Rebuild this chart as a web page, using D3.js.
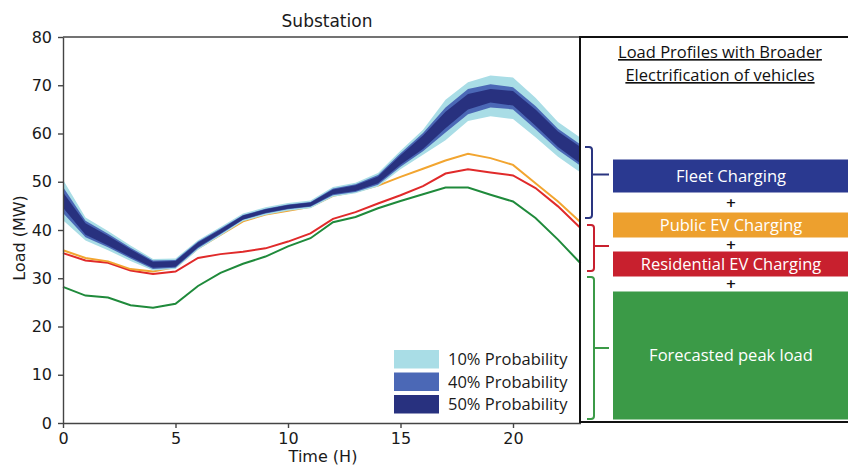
<!DOCTYPE html>
<html>
<head>
<meta charset="utf-8">
<script src="https://cdn.jsdelivr.net/npm/d3@7"></script>
<style>
  body { margin: 0; background: #fff; }
  svg { display: block; }
  .axis text { font-family: "DejaVu Sans", sans-serif; font-size: 16px; fill: #1a1a1a; }
  .axis path, .axis line { stroke: #444; stroke-width: 1.4px; }
</style>
</head>
<body>
<div id="chart"></div>
<script>
// hour of day
const hours = d3.range(0, 24);

// load profiles (MW)
const peakLoad = [28.2, 26.4, 26.0, 24.4, 23.9, 24.7, 28.4, 31.1, 33.0, 34.5, 36.6, 38.3, 41.6, 42.7, 44.5, 46.0, 47.4, 48.8, 48.8, 47.3, 45.9, 42.5, 38.0, 33.1];
const residentialEV = [35.2, 33.7, 33.2, 31.6, 30.9, 31.4, 34.2, 35.0, 35.5, 36.2, 37.6, 39.3, 42.3, 43.7, 45.5, 47.2, 49.1, 51.7, 52.6, 51.9, 51.3, 48.7, 44.9, 40.4];
const publicEV = [35.8, 34.2, 33.5, 31.9, 31.4, 32.3, 36.2, 39.0, 41.8, 43.2, 44.0, 44.8, 47.1, 48.0, 49.2, 51.0, 52.7, 54.4, 55.8, 54.9, 53.5, 49.7, 45.9, 41.6];
const fleetMid = [46.2, 40.2, 37.8, 35.2, 32.8, 33.0, 36.9, 39.7, 42.6, 43.9, 44.8, 45.3, 47.9, 48.7, 50.4, 54.5, 58.2, 62.8, 66.6, 67.8, 67.3, 63.3, 58.8, 55.5];

// half widths of the fleet charging bands
const spread10 = [4.2, 2.4, 2.0, 1.6, 1.2, 1.1, 1.0, 0.9, 0.8, 0.8, 0.8, 0.8, 1.0, 1.1, 1.4, 1.9, 2.6, 4.2, 4.0, 4.2, 4.3, 4.1, 3.6, 3.6];
const spread40 = [2.7, 1.7, 1.4, 1.1, 0.9, 0.8, 0.7, 0.6, 0.5, 0.5, 0.5, 0.5, 0.7, 0.8, 1.0, 1.4, 1.9, 2.6, 2.6, 2.4, 2.3, 2.4, 2.2, 2.2];
const spread50 = [1.6, 1.2, 1.0, 0.8, 0.6, 0.6, 0.5, 0.4, 0.4, 0.4, 0.4, 0.4, 0.5, 0.6, 0.7, 1.0, 1.4, 1.7, 1.6, 1.4, 1.5, 1.7, 1.6, 1.7];

const xTicks = [0, 5, 10, 15, 20];
const yTicks = [0, 10, 20, 30, 40, 50, 60, 70, 80];

const bandLabels = ['10% Probability', '40% Probability', '50% Probability'];
const stackLabels = ['Fleet Charging', 'Public EV Charging', 'Residential EV Charging', 'Forecasted peak load'];

const COLORS = {
  band10: '#a9dde6', band40: '#4b68b6', band50: '#28317f',
  publicEV: '#f2a530', residential: '#e02a2a', peak: '#1f8a3b'
};

const W = 848, H = 466;
const PLOT = { LEFT: 63, RIGHT: 580.5, TOP: 37, BOTTOM: 423 };

const svg = d3.select('#chart')
  .append('svg')
  .attr('width', W)
  .attr('height', H);

//scales
const x = d3.scaleLinear().domain([0, 23]).range([PLOT.LEFT, PLOT.RIGHT]);
const y = d3.scaleLinear().domain([0, 80]).range([PLOT.BOTTOM, PLOT.TOP]);

// bands
const bands = [
  { key: 'band10', s: spread10 },
  { key: 'band40', s: spread40 },
  { key: 'band50', s: spread50 }
];

const line = d3.line().x(d => x(d[0])).y(d => y(d[1]));

// demand lines (drawn under the fleet bands)
const series = [
  { key: 'peak', v: peakLoad },
  { key: 'residential', v: residentialEV },
  { key: 'publicEV', v: publicEV }
];
svg.append('g').selectAll('path')
  .data(series)
  .join('path')
  .attr('d', d => line(hours.map(h => [h, d.v[h]])))
  .attr('fill', 'none')
  .attr('stroke', d => COLORS[d.key])
  .attr('stroke-width', 2);

const area = d3.area()
  .x(d => x(d.h))
  .y0(d => y(d.lo))
  .y1(d => y(d.hi));

svg.append('g').selectAll('path')
  .data(bands)
  .join('path')
  .attr('d', b => area(hours.map(h => ({ h, lo: fleetMid[h] - b.s[h], hi: fleetMid[h] + b.s[h] }))))
  .attr('fill', b => COLORS[b.key]);

// axes
svg.append('g')
  .attr('class', 'axis')
  .attr('transform', `translate(0, ${PLOT.BOTTOM})`)
  .call(d3.axisBottom(x).tickValues(xTicks).tickSize(5).tickPadding(5).tickSizeOuter(0));

svg.append('g')
  .attr('class', 'axis')
  .attr('transform', `translate(${PLOT.LEFT}, 0)`)
  .call(d3.axisLeft(y).tickValues(yTicks).tickSize(5).tickPadding(6).tickSizeOuter(0));

// top frame line
svg.append('line')
  .attr('x1', PLOT.LEFT).attr('x2', PLOT.RIGHT)
  .attr('y1', PLOT.TOP).attr('y2', PLOT.TOP)
  .attr('stroke', '#444').attr('stroke-width', 1.4);

svg.append('text')
  .attr('x', 327).attr('y', 27)
  .attr('text-anchor', 'middle')
  .attr('font-family', 'DejaVu Sans, sans-serif')
  .attr('font-size', 17)
  .attr('fill', '#1a1a1a')
  .text('Substation');

svg.append('text')
  .attr('x', 323).attr('y', 462)
  .attr('text-anchor', 'middle')
  .attr('font-family', 'DejaVu Sans, sans-serif')
  .attr('font-size', 16)
  .attr('fill', '#1a1a1a')
  .text('Time (H)');

svg.append('text')
  .attr('transform', 'translate(25, 238) rotate(-90)')
  .attr('text-anchor', 'middle')
  .attr('font-family', 'DejaVu Sans, sans-serif')
  .attr('font-size', 16)
  .attr('fill', '#1a1a1a')
  .text('Load (MW)');

// legend
const legend = svg.append('g').attr('transform', 'translate(394, 350)');
legend.selectAll('rect')
  .data(bands)
  .join('rect')
  .attr('x', 0)
  .attr('y', (d, i) => i * 22.5)
  .attr('width', 45)
  .attr('height', 18.5)
  .attr('fill', d => COLORS[d.key]);
legend.selectAll('text')
  .data(bandLabels)
  .join('text')
  .attr('x', 54)
  .attr('y', (d, i) => i * 22.5 + 15)
  .attr('font-family', 'Open Sans, sans-serif')
  .attr('font-size', 16.5)
  .attr('fill', '#1a1a1a')
  .text(d => d);

// right panel
const panel = svg.append('g');
panel.append('rect')
  .attr('x', 580).attr('y', 37)
  .attr('width', 300).attr('height', 385)
  .attr('fill', 'none')
  .attr('stroke', '#111')
  .attr('stroke-width', 2);

const title = ['Load Profiles with Broader', 'Electrification of vehicles'];
panel.selectAll('text.ttl')
  .data(title)
  .join('text')
  .attr('class', 'ttl')
  .attr('x', 720)
  .attr('y', (d, i) => 58 + i * 23)
  .attr('text-anchor', 'middle')
  .attr('font-family', 'Open Sans, sans-serif')
  .attr('font-size', 16.5)
  .attr('text-decoration', 'underline')
  .attr('fill', '#111')
  .text(d => d);

const boxes = [
  { label: stackLabels[0], y0: 159.5, y1: 192.5, fill: '#2a3990' },
  { label: stackLabels[1], y0: 212.5, y1: 237.5, fill: '#eda02e' },
  { label: stackLabels[2], y0: 251.5, y1: 276.5, fill: '#c8202e' },
  { label: stackLabels[3], y0: 291.5, y1: 419.5, fill: '#3b9a47' }
];
panel.selectAll('rect.box')
  .data(boxes)
  .join('rect')
  .attr('class', 'box')
  .attr('x', 613).attr('y', d => d.y0)
  .attr('width', 240).attr('height', d => d.y1 - d.y0)
  .attr('fill', d => d.fill);
panel.selectAll('text.box')
  .data(boxes)
  .join('text')
  .attr('class', 'box')
  .attr('x', 731)
  .attr('y', d => (d.y0 + d.y1) / 2)
  .attr('dy', '0.35em')
  .attr('text-anchor', 'middle')
  .attr('font-family', 'Open Sans, sans-serif')
  .attr('font-size', 16.5)
  .attr('fill', '#fff')
  .text(d => d.label);

// plus signs sit in the gaps between the boxes
panel.selectAll('text.plus')
  .data(boxes.slice(1))
  .join('text')
  .attr('class', 'plus')
  .attr('x', 731)
  .attr('y', (d, i) => (boxes[i].y1 + d.y0) / 2)
  .attr('dy', '0.33em')
  .attr('text-anchor', 'middle')
  .attr('font-family', 'DejaVu Sans, sans-serif')
  .attr('font-size', 13)
  .attr('font-weight', 'bold')
  .attr('fill', '#111')
  .text('+');

// curly brackets
const brackets = [
  { top: 147, bot: 218, mid: 174.5, xv: 592, color: '#2a3580' },
  { top: 225, bot: 271, mid: 246, xv: 594, color: '#c8202e' },
  { top: 277, bot: 419, mid: 348, xv: 594, color: '#3b9a47' }
];
panel.selectAll('path.br')
  .data(brackets)
  .join('path')
  .attr('class', 'br')
  .attr('d', b => {
    const xl = b.xv - 7, r = 3;
    return `M${xl},${b.top} L${b.xv - r},${b.top} Q${b.xv},${b.top} ${b.xv},${b.top + r}` +
      ` L${b.xv},${b.bot - r} Q${b.xv},${b.bot} ${b.xv - r},${b.bot} L${xl},${b.bot}` +
      ` M${b.xv},${b.mid} L609,${b.mid}`;
  })
  .attr('fill', 'none')
  .attr('stroke', d => d.color)
  .attr('stroke-width', 2);
</script>
</body>
</html>
